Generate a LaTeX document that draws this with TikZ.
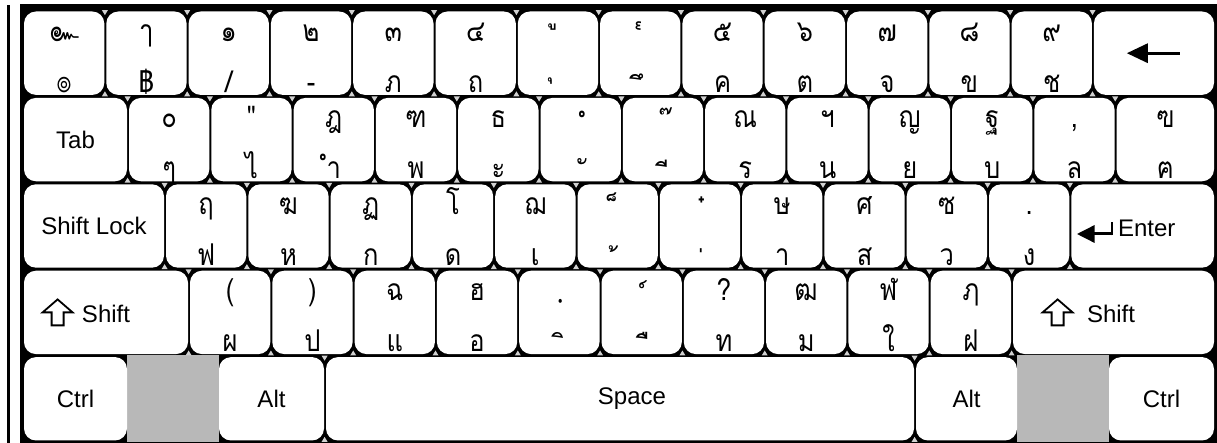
\documentclass[tikz,border=0pt]{standalone}
\usepackage{fontspec}
\setmainfont{Liberation Sans}
\newfontfamily\thaifont[Script=Thai, FakeStretch=0.85]{Loma}
\usetikzlibrary{calc}

\tikzset{
  keybox/.style={fill=white, draw=none, rounded corners=6pt, inner sep=0pt, minimum height=41.7pt},
  thailbl/.style={font=\thaifont\fontsize{15}{15}\selectfont, anchor=base, inner sep=0pt},
  keytxt/.style={font=\fontsize{12}{14}\selectfont, inner sep=0pt},
  hatch/.style={fill=black!28},
  junction/.style={fill=black!18},
  shiftarrow/.pic={\draw[line width=0.9pt, line join=miter, fill=white]
      (0,-13) -- (15,0) -- (6,0) -- (6,13) -- (-6,13) -- (-6,0) -- (-15,0) -- cycle;}
}

% key from x1 to x2 (pixels) in row r
\newcommand\keyat[4]{%
  \pgfmathsetmacro\kw{((#3)-(#2)-2)*0.5}%
  \pgfmathsetmacro\kc{((#2)+(#3))/2}%
  \pgfmathsetmacro\ky{10+86.4*(#4)+43.2}%
  \node[keybox, minimum width=\kw pt] (#1) at (\kc,\ky) {};}
% little triangles where the key meets its left neighbour
\newcommand\junc[1]{%
  \fill[junction] ($(#1.north west)+(-4,-1)$) -- ($(#1.north west)+(2,-1)$) -- ($(#1.north west)+(-1,4)$) -- cycle;
  \fill[junction] ($(#1.south west)+(-4,1)$) -- ($(#1.south west)+(2,1)$) -- ($(#1.south west)+(-1,-4)$) -- cycle;}
% lone Thai mark: its ink centre goes to (dx,dy) from the label point
\newcommand\mk[3]{%
  \setbox0\hbox{#3}%
  \count255=\XeTeXcharglyph`#3\relax
  \dimen0=\XeTeXglyphbounds1 \count255
  \dimen2=\XeTeXglyphbounds3 \count255
  \dimen4=\XeTeXglyphbounds2 \count255
  \dimen6=\XeTeXglyphbounds4 \count255
  \dimen8=\dimexpr(\dimen0+\wd0-\dimen2)/2\relax
  \dimen9=\dimexpr(\dimen4-\dimen6)/2\relax
  \hbox to 0pt{\hskip\dimexpr#1-\dimen8\relax\raise\dimexpr#2-\dimen9\relax\box0\hss}}

\begin{document}
\begin{tikzpicture}[x=0.5pt, y=-0.5pt]
    \useasboundingbox (0,0) rectangle (1217,443);
    % Frame
    \fill[black] (7,5) rectangle (10,443);
    \fill[black] (20,4) rectangle (1217,443);
    \fill[hatch] (127,355) rectangle (219,442);
    \fill[hatch] (1017,355) rectangle (1109,442);

    % Row 0: numbers
    \foreach \tp/\bt [count=\i from 0] in {๛/๏, ๅ/฿, ๑/{/}, ๒/-, ๓/ภ, ๔/ถ,
        \mk{-3pt}{7.25pt}{ู}/\mk{-4pt}{5.5pt}{ุ}, \mk{-1pt}{8pt}{๎}/\mk{-2pt}{7.5pt}{ึ},
        ๕/ค, ๖/ต, ๗/จ, ๘/ข, ๙/ช} {
      \keyat{ka\i}{23+82.3*\i}{23+82.3*(\i+1)}{0}
      \ifnum\i>0 \junc{ka\i}\fi
      \node[thailbl] (kat\i) at ([yshift=-15.25pt]ka\i.north) {\tp};
      \node[thailbl] (kab\i) at ([yshift=1.5pt]ka\i.south) {\bt};
    }
    \keyat{bksp}{1092.9}{1215}{0}
    \junc{bksp}
    \fill ($(bksp.center)+(-27,0)$) -- ($(bksp.center)+(-6,-10)$) -- ($(bksp.center)+(-6,10)$) -- cycle;
    \draw[line width=1.5pt] ($(bksp.center)+(-8,0)$) -- ($(bksp.center)+(26,0)$);

    % Row 1
    \keyat{tab}{23}{128}{1}
    \node[keytxt] (tabtxt) at (tab.center) {Tab};
    \foreach \tp/\bt [count=\i from 0] in {๐/ๆ, "/ไ, ฎ/ำ, ฑ/พ, ธ/ะ,
        \mk{0.7pt}{7pt}{ํ}/\mk{0.7pt}{8.5pt}{ั}, \mk{1.5pt}{8.5pt}{๊}/\mk{-1pt}{7.5pt}{ี},
        ณ/ร, ฯ/น, ญ/ย, ฐ/บ, {,}/ล} {
      \keyat{kb\i}{128+82.3*\i}{128+82.3*(\i+1)}{1}
      \junc{kb\i}
      \node[thailbl] (kbt\i) at ([yshift=-15.25pt]kb\i.north) {\tp};
      \node[thailbl] (kbb\i) at ([yshift=1.5pt]kb\i.south) {\bt};
    }
    \keyat{bsl}{1115.6}{1215}{1}
    \junc{bsl}
    \node[thailbl] (bslt) at ([yshift=-15.25pt]bsl.north) {ฃ};
    \node[thailbl] (bslb) at ([yshift=1.5pt]bsl.south) {ฅ};

    % Row 2
    \keyat{caps}{23}{165}{2}
    \node[keytxt] (capstxt) at (caps.center) {Shift Lock};
    \foreach \tp/\bt [count=\i from 0] in {ฤ/ฟ, ฆ/ห, ฏ/ก, โ/ด, ฌ/เ,
        \mk{-3pt}{8.5pt}{็}/\mk{-2pt}{8pt}{้}, \mk{0.75pt}{7pt}{๋}/\mk{0.5pt}{7pt}{่},
        ษ/า, ศ/ส, ซ/ว, ./ง} {
      \keyat{kc\i}{165+82.3*\i}{165+82.3*(\i+1)}{2}
      \junc{kc\i}
      \node[thailbl] (kct\i) at ([yshift=-15.25pt]kc\i.north) {\tp};
      \node[thailbl] (kcb\i) at ([yshift=1.5pt]kc\i.south) {\bt};
    }
    \keyat{enter}{1070.3}{1215}{2}
    \junc{enter}
    \fill ($(enter.center)+(-65.6,8)$) -- ($(enter.center)+(-48,-1)$) -- ($(enter.center)+(-48,17)$) -- cycle;
    \draw[line width=1.5pt] ($(enter.center)+(-49,8)$) -- ($(enter.center)+(-30,8)$);
    \draw[line width=1pt] ($(enter.center)+(-30.5,9.5)$) -- ($(enter.center)+(-30.5,-4)$);
    \node[keytxt, anchor=west] (entertxt) at ($(enter.center)+(-25,2)$) {Enter};

    % Row 3
    \keyat{lshift}{23}{189}{3}
    \pic at ($(lshift.west)+(34,0)$) {shiftarrow};
    \node[keytxt, anchor=west] (lshifttxt) at ($(lshift.west)+(58,2)$) {Shift};
    \foreach \tp/\bt [count=\i from 0] in {{(}/ผ, {)}/ป, ฉ/แ, ฮ/อ,
        \mk{0.5pt}{-0.5pt}{ฺ}/\mk{-1pt}{8pt}{ิ}, \mk{0.75pt}{8pt}{์}/\mk{0pt}{8pt}{ื},
        ?/ท, ฒ/ม, ฬ/ใ, ฦ/ฝ} {
      \keyat{kd\i}{189+82.3*\i}{189+82.3*(\i+1)}{3}
      \junc{kd\i}
      \node[thailbl] (kdt\i) at ([yshift=-15.25pt]kd\i.north) {\tp};
      \node[thailbl] (kdb\i) at ([yshift=1.5pt]kd\i.south) {\bt};
    }
    \keyat{rshift}{1012}{1215}{3}
    \junc{rshift}
    \pic at ($(rshift.west)+(45,0)$) {shiftarrow};
    \node[keytxt, anchor=west] (rshifttxt) at ($(rshift.west)+(74,2)$) {Shift};

    % Row 4
    \keyat{lctrl}{23}{128}{4}
    \keyat{lalt}{218}{325}{4}
    \keyat{space}{325}{915}{4}
    \keyat{ralt}{915}{1018}{4}
    \keyat{rctrl}{1108}{1215}{4}
    \junc{space}
    \junc{ralt}
    \node[keytxt] (lctrltxt) at (lctrl.center) {Ctrl};
    \node[keytxt] (lalttxt) at (lalt.center) {Alt};
    \node[keytxt] (spacetxt) at ($(space.center)+(12,0)$) {Space};
    \node[keytxt] (ralttxt) at (ralt.center) {Alt};
    \node[keytxt] (rctrltxt) at (rctrl.center) {Ctrl};
\end{tikzpicture}
\end{document}
